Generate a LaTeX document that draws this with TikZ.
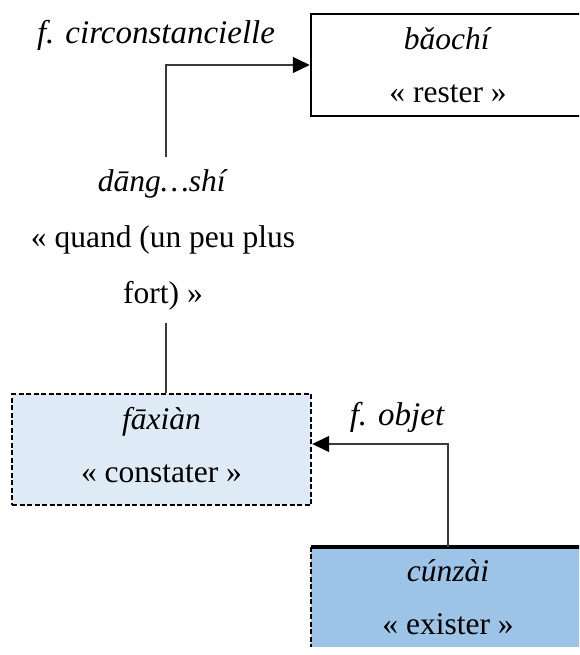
\documentclass[tikz,border=0pt]{standalone}
\usepackage{fontspec}
\setmainfont{Liberation Serif}
\usetikzlibrary{arrows.meta,positioning}
\definecolor{paleblue}{HTML}{DEEBF7}
\definecolor{midblue}{HTML}{9DC3E6}
\definecolor{wire}{HTML}{3A3A3A}
\tikzset{
  word/.style={align=center, font=\fontsize{31.5}{53}\selectfont, inner sep=0pt},
  fn/.style={font=\fontsize{33}{36}\selectfont\itshape, inner sep=0pt},
  link/.style={draw=wire, line width=1.4pt},
  arr/.style={link, -{Triangle[length=17pt,width=16pt,black]}}
}
\begin{document}
\begin{tikzpicture}[x=1pt,y=-1pt]
   \useasboundingbox (0,0) rectangle (579,655);
   \clip (0,0) rectangle (579,655);
   \node (keep) [word, draw, line width=2.5pt, minimum width=274pt, minimum height=102pt]
     at (448,65) {\textit{bǎochí}\\« rester »};
   \node (find) [word, fill=paleblue, draw, line width=2.4pt, dash pattern=on 5pt off 2.5pt,
     minimum width=299pt, minimum height=111pt] at (161.5,449.5)
     {\textit{fāxiàn}\\« constater »\rule[-10pt]{0pt}{10pt}};
   \node (exist) [word, fill=midblue, minimum width=274pt, minimum height=100pt]
     at (448,597) {\textit{cúnzài}\\« exister »};
   \draw[line width=2.4pt, dash pattern=on 5pt off 2.5pt] (exist.north west) -- (exist.south west);
   \draw[line width=4pt] (exist.north west) -- (exist.north east);
   \node (when) [word, font=\fontsize{31.5}{56}\selectfont, inner ysep=13pt] at (163,240)
     {\textit{dāng…shí}\\« quand (un peu plus\\fort) »};
   \node (circ) [fn, anchor=base] at (156,44) {f. circonstancielle};
   \node (obj) [fn, anchor=base] at (397,425) {f. objet};
   \draw[arr] ([xshift=3pt]when.north) |- (keep.west);
   \draw[link] ([xshift=3pt]when.south) -- ([xshift=3pt]when.south |- find.north);
   \draw[arr] (exist.north) |- ([yshift=5.5pt]find.east);
\end{tikzpicture}
\end{document}
